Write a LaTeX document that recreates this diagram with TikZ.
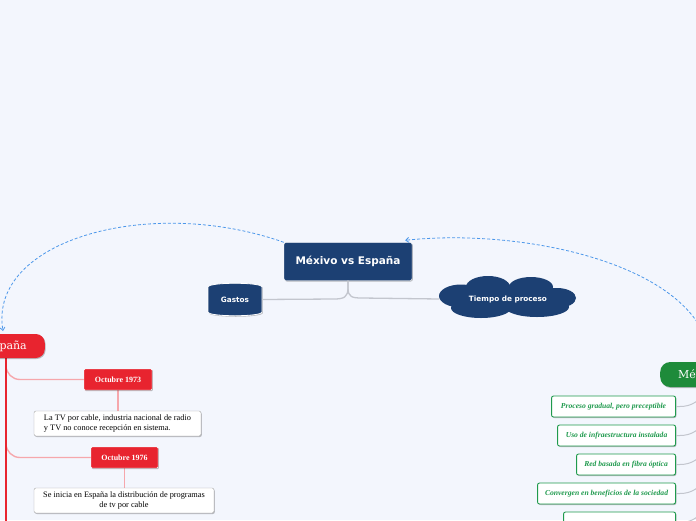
\documentclass[tikz,border=0pt]{standalone}
\usepackage{fontspec}
\setmainfont{Liberation Serif}
\newfontfamily\verdana{DejaVu Sans}
\newfontfamily\slab{DejaVu Serif}
\usetikzlibrary{shadows,arrows.meta}
\definecolor{bgblue}{HTML}{F3F6FD}
\definecolor{navy}{HTML}{1C4073}
\definecolor{espred}{HTML}{E8242F}
\definecolor{mexgreen}{HTML}{1E8B3A}
\definecolor{itemgreen}{HTML}{1F9A4D}
\definecolor{linkblue}{HTML}{4C97EA}
\definecolor{stemgray}{HTML}{C3C6CE}
\begin{document}
\begin{tikzpicture}[x=1pt,y=-1pt,
        soft/.style={drop shadow={shadow xshift=0.8pt,shadow yshift=-1pt,opacity=0.25,fill=black}},
        topic/.style={text=white, font=\verdana\bfseries\fontsize{7.3}{9}\selectfont, inner sep=0pt},
        maintopic/.style={topic, fill=navy, draw=white, rounded corners=2pt, soft,
            minimum width=128pt, minimum height=38pt, font=\verdana\bfseries\fontsize{10.5}{12}\selectfont},
        stem/.style={draw=stemgray, line width=1.3pt},
        link/.style={draw=linkblue, line width=0.8pt, dash pattern=on 3pt off 2pt, -{Straight Barb[length=3pt,width=5pt]}},
        espnode/.style={fill=espred, text=white, rounded corners=9pt, soft, font=\slab\fontsize{11}{13}\selectfont},
        mexnode/.style={fill=mexgreen, text=white, rounded corners=10pt, soft, font=\slab\fontsize{11}{13}\selectfont},
        datebox/.style={fill=espred, text=white, draw=white, soft, rounded corners=1pt, minimum height=21pt,
            inner sep=0pt, font=\bfseries\fontsize{8}{9}\selectfont},
        factbox/.style={fill=white, draw=gray!70, soft, rounded corners=2pt, minimum height=25pt,
            inner sep=0pt, font=\fontsize{8.3}{9.6}\selectfont},
        trunk/.style={draw=espred, line width=1.8pt},
        twig/.style={draw=espred!40, line width=1.4pt},
        itembox/.style={fill=white, draw=itemgreen, line width=0.9pt, soft, rounded corners=2pt,
            minimum height=21pt, inner sep=0pt, text=itemgreen, font=\bfseries\itshape\fontsize{7.6}{9}\selectfont},
    ]
    \fill[bgblue] (0,0) rectangle (696,520);
    \useasboundingbox (0,0) rectangle (696,520);
    \clip (0,0) rectangle (696,520);

    % central topic and its two subtopics
    \node[maintopic] (main) at (348,261.5) {Méxivo vs España};
    \fill[navy, draw=white, line width=0.8pt, soft] (208,287) .. controls (208,282) and (262,282) .. (262,287)
        -- (262,312) .. controls (262,317) and (208,317) .. (208,312) -- cycle;
    \node[topic] (gastos) at (235,299.5) {Gastos};
    % cloud
    \fill[navy] (488,287) ellipse (22 and 11) (531,287) ellipse (22 and 10)
        (461,296) ellipse (22 and 11.5) (557,298) ellipse (19 and 10)
        (481,308) ellipse (30 and 10) (537,307) ellipse (32 and 10) (508,298) ellipse (50 and 12);
    \node[topic, minimum width=137pt, minimum height=30pt] (tiempo) at (508,299) {Tiempo de proceso};
    \draw[stem] (main.south) -- (348,288) .. controls (348,297) and (344,299) .. (334,299) -- (gastos.east -| 262,0);
    \draw[stem] (main.south) -- (348,288) .. controls (348,297) and (352,298) .. (362,298) -- (tiempo.west);

    % relationships
    \coordinate (mexlink) at (708,345);
    \draw[link] (main.north west) .. controls (150,195) and (-12,240) .. (3,331);
    \draw[link] (mexlink) .. controls (684,262) and (520,228) .. ([xshift=-7pt,yshift=2pt]main.north east);

    % España
    \draw[twig, rounded corners=14pt] (6,358) |- (84,379.5);
    \draw[twig, rounded corners=14pt] (6,430) |- (91,457.5);
    \draw[twig] (118,390) -- (118,411);
    \draw[twig] (124.5,468) -- (124.5,488);
    \draw[trunk] (6,352) -- (6,525);
    \node[espnode, anchor=east, minimum height=24pt, inner xsep=18pt] (espana) at (45,346) {España};
    \node[datebox, minimum width=68pt] (oct73) at (118,379.5) {Octubre 1973};
    \node[datebox, minimum width=67pt] (oct76) at (124.5,457.5) {Octubre 1976};
    \node[factbox, minimum width=167pt, align=left] (fact73) at (117.5,423.5)
        {La TV por cable, industria nacional de radio\\y TV no conoce recepción en sistema.};
    \node[factbox, minimum width=180pt, align=center] (fact76) at (124,500.5)
        {Se inicia en España la distribución de programas\\de tv por cable};

    % México
    \node[mexnode, anchor=west, minimum height=25pt, inner xsep=18pt] (mexico) at (660,374.5) {México};
    \foreach \n/\y/\w/\t in {1/406.5/124/{Proceso gradual, pero preceptible},
                            2/435.5/118/{Uso de infraestructura instalada},
                            3/464.5/99/{Red basada en fibra óptica},
                            4/493.5/138/{Convergen en beneficios de la sociedad},
                            5/522.5/112/{}} {
        \node[itembox, anchor=east, minimum width=\w pt] (item\n) at (676,\y) {\t};
        \draw[stem, line width=1pt] (item\n.east) -- (680,\y) .. controls (692,\y) and (700,\y-6) .. (706,\y-16);
    }
\end{tikzpicture}
\end{document}
